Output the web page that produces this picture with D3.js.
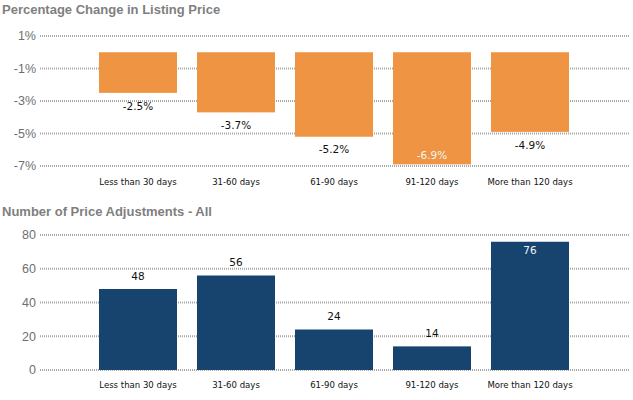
<!DOCTYPE html>
<html><head><meta charset="utf-8">
<script src="https://cdn.jsdelivr.net/npm/d3@7"></script>
<style>body{margin:0;background:#fff}svg{display:block}</style>
</head><body>
<svg id="c" width="633" height="400"></svg>
<script>
const categories = ["Less than 30 days","31-60 days","61-90 days","91-120 days","More than 120 days"];
const pctChange = [-2.5,-3.7,-5.2,-6.9,-4.9];
const adjustments = [48,56,24,14,76];
const pctTicks = [1,-1,-3,-5,-7];
const adjTicks = [0,20,40,60,80];

const svg = d3.select("#c");
const gridX0 = 40, gridX1 = 630;
const x = d3.scaleBand().domain(categories).range([89,579]).paddingInner(0.204).paddingOuter(0.102);

function panel(opts){
  const g = svg.append("g");
  g.append("text").attr("x",2).attr("y",opts.titleY).text(opts.title)
    .attr("font-family","Liberation Sans, Arial, sans-serif").attr("font-weight","bold")
    .attr("font-size",13).attr("fill","#7f7f7f");
  const y = opts.y;
  opts.ticks.forEach(t=>{
    g.append("line").attr("x1",gridX0).attr("x2",gridX1).attr("y1",y(t)).attr("y2",y(t))
      .attr("stroke","#a8a8a8").attr("stroke-width",2).attr("stroke-dasharray","1,1");
    g.append("text").attr("x",36).attr("y",y(t)).attr("dy","0.35em").attr("text-anchor","end")
      .attr("font-family","Liberation Sans, Arial, sans-serif").attr("font-size",12.5).attr("fill","#6f6f6f")
      .text(opts.fmt(t));
  });
  const y0 = y(0);
  opts.data.forEach((v,i)=>{
    const c = categories[i];
    const top = Math.min(y(v),y0), h = Math.abs(y(v)-y0);
    g.append("rect").attr("x",x(c)).attr("y",top).attr("width",x.bandwidth()).attr("height",h).attr("fill",opts.color);
    const inside = opts.inside(v);
    let ly;
    if(opts.neg){ ly = inside ? y(v)-9 : y(v)+13; }
    else { ly = inside ? y(v)+9 : y(v)-13; }
    g.append("text").attr("x",x(c)+x.bandwidth()/2).attr("y",ly).attr("dy","0.35em").attr("text-anchor","middle")
      .attr("font-family","DejaVu Sans, Verdana, sans-serif").attr("font-size",10.5)
      .attr("fill",inside?"#f4f4f4":"#111").text(opts.lbl(v));
  });
  categories.forEach(c=>{
    g.append("text").attr("x",x(c)+x.bandwidth()/2).attr("y",opts.catY).attr("text-anchor","middle")
      .attr("font-family","DejaVu Sans Condensed, DejaVu Sans, sans-serif").attr("font-size",9.5).attr("fill","#111").text(c);
  });
}

const yTop = d3.scaleLinear().domain([1,-7]).range([36,166]);
panel({title:"Percentage Change in Listing Price",titleY:14,y:yTop,ticks:pctTicks,fmt:t=>t+"%",
  data:pctChange,color:"#ef9442",neg:true,inside:v=>v<-6,lbl:v=>v.toFixed(1)+"%",catY:185});

const yBot = d3.scaleLinear().domain([0,80]).range([370,235]);
panel({title:"Number of Price Adjustments - All",titleY:216,y:yBot,ticks:adjTicks,fmt:t=>t,
  data:adjustments,color:"#17436f",neg:false,inside:v=>v>70,lbl:v=>v,catY:388});
</script>
</body></html>
